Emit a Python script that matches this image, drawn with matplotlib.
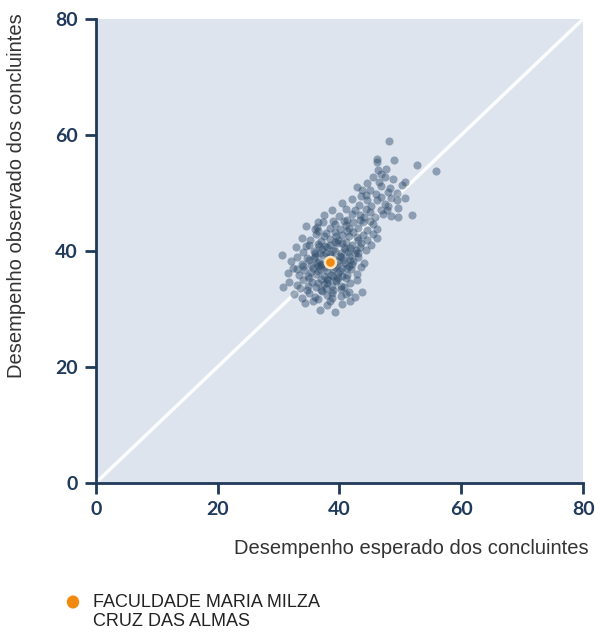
import matplotlib
matplotlib.use("Agg")
import matplotlib.pyplot as plt

# desempenho esperado (x) e observado (y) das instituicoes
expected = [
    34.3, 36.8, 39.2, 41.7, 37.9, 35.6, 40.4, 38.5,
    32.5, 33.8, 35.0, 36.0, 37.1, 38.0, 39.0, 40.3, 41.5, 42.6, 36.5, 38.7, 43.7, 34.6,
    30.7, 31.8, 33.0, 34.0, 34.8, 35.5, 36.2, 36.9, 37.5, 38.1, 38.8, 39.4, 40.2, 41.0,
    41.8, 42.9, 35.0, 36.5, 37.8, 39.8, 33.6, 40.7,
    31.5, 32.3, 33.4, 34.2, 34.9, 35.6, 36.2, 36.8, 37.4, 38.0, 38.6, 39.2, 39.8, 40.5,
    41.2, 41.9, 42.8, 43.6, 34.0, 35.3, 36.5, 37.7, 39.0, 40.1, 41.5, 33.0,
    32.0, 33.0, 33.9, 34.7, 35.4, 36.0, 36.7, 37.3, 37.9, 39.0, 39.6, 40.2, 40.9, 41.6,
    42.3, 43.1, 44.0, 35.0, 36.3, 38.5, 40.6, 42.0, 30.6, 37.0,
    32.8, 34.0, 35.0, 35.8, 36.5, 37.2, 37.8, 38.4, 39.0, 39.6, 40.2, 40.8, 41.4, 42.0,
    42.7, 43.5, 44.3, 36.0, 38.0, 39.3, 40.5, 41.8, 43.0, 45.2, 34.5,
    33.8, 35.2, 36.2, 37.0, 37.8, 38.5, 39.2, 39.8, 40.4, 41.0, 41.6, 42.3, 43.0, 43.8,
    44.6, 45.5, 37.5, 39.5, 41.3, 42.8, 36.5, 46.2,
    34.5, 36.0, 36.3, 37.3, 38.4, 38.9, 39.3, 40.1, 40.8, 41.2, 41.5, 42.2, 43.0, 43.8,
    44.6, 45.5, 46.2, 41.0, 43.4, 45.0, 36.5,
    37.5, 38.8, 40.0, 41.0, 42.0, 42.5, 43.3, 44.4, 45.0, 45.8, 46.8, 47.8, 48.5, 49.6,
    51.9, 49.6, 44.0, 47.2,
    40.5, 42.0, 43.2, 44.5, 45.2, 46.1, 46.8, 47.5, 48.4, 49.4, 50.7, 43.6, 48.0,
    42.9, 43.7, 45.0, 46.0, 46.9, 47.9, 48.3, 49.5, 44.3, 50.3,
    44.5, 45.5, 46.5, 47.5, 48.8, 50.7, 46.8,
    46.3, 46.1, 46.1, 48.9, 52.7, 55.8, 48.1, 47.7,
    # nucleo mais denso
    36.4, 37.2, 38.0, 38.9, 39.7, 40.5, 41.3, 36.8, 37.6, 38.4, 39.3, 40.1, 40.9, 41.7,
    37.0, 37.9, 38.7, 39.5, 40.3, 41.1, 35.8, 36.7, 42.5, 43.3,
]
observed = [
    31.0, 29.8, 29.5, 31.3, 30.6, 31.3, 30.9, 31.4,
    32.6, 31.9, 32.8, 32.1, 33.0, 32.4, 33.2, 32.3, 32.9, 32.0, 31.7, 31.8, 32.9, 33.3,
    33.8, 34.6, 34.1, 35.0, 33.9, 34.7, 33.7, 35.2, 34.3, 35.0, 33.9, 34.8, 34.0, 35.3,
    34.4, 35.0, 35.4, 34.4, 33.6, 35.4, 33.6, 33.7,
    36.2, 37.1, 35.8, 36.7, 35.6, 37.0, 36.0, 36.9, 35.7, 36.6, 35.9, 37.2, 36.2, 37.0,
    35.8, 36.8, 36.1, 37.3, 37.4, 36.3, 37.4, 37.3, 35.6, 36.6, 37.4, 36.9,
    38.3, 39.0, 37.8, 38.8, 37.6, 39.2, 38.1, 39.3, 37.7, 38.7, 37.6, 39.0, 38.0, 39.2,
    38.2, 39.0, 38.0, 38.5, 38.0, 39.4, 38.5, 37.7, 39.3, 37.6,
    40.6, 39.8, 41.0, 40.0, 41.2, 40.3, 39.6, 41.0, 40.1, 41.3, 39.7, 40.7, 39.8, 41.1,
    40.2, 41.3, 40.1, 39.6, 40.6, 39.9, 41.4, 40.5, 39.7, 41.0, 40.9,
    42.3, 41.8, 42.9, 41.7, 43.1, 42.0, 43.3, 41.9, 42.8, 41.6, 42.6, 43.2, 41.9, 42.8,
    41.8, 43.0, 42.5, 42.6, 43.4, 42.4, 43.4, 42.2,
    44.3, 43.8, 44.1, 45.0, 43.9, 45.2, 44.6, 43.7, 45.1, 45.3, 44.0, 45.0, 43.9, 44.9,
    43.6, 44.6, 43.8, 44.5, 45.4, 45.2, 45.0,
    46.2, 47.0, 46.0, 47.2, 46.3, 47.1, 46.2, 47.3, 46.7, 45.8, 47.0, 47.1, 46.0, 45.9,
    46.2, 47.4, 45.9, 46.3,
    48.2, 49.0, 48.0, 48.8, 47.8, 48.8, 49.3, 48.1, 49.2, 48.8, 49.1, 49.4, 47.7,
    51.0, 50.5, 50.5, 49.8, 51.2, 50.2, 50.9, 50.0, 49.7, 51.3,
    51.7, 52.8, 51.9, 52.8, 52.4, 51.9, 53.3,
    54.0, 55.9, 55.3, 55.7, 54.8, 53.8, 59.0, 54.2,
    36.5, 37.8, 35.2, 36.9, 38.3, 35.6, 37.1, 39.6, 40.8, 38.9, 41.5, 39.2, 40.4, 38.4,
    33.2, 34.4, 32.8, 34.9, 33.5, 32.6, 38.8, 40.9, 39.6, 40.7,
]

# instituicao em destaque
highlight_name = "FACULDADE MARIA MILZA\nCRUZ DAS ALMAS"
highlight_x = 38.4
highlight_y = 38.1

ticks = [0, 20, 40, 60, 80]

navy = "#1f3a5a"
bg = "#dde4ee"
dots = "#2d4a6a"
orange = "#f0890f"


def main():
    fig = plt.figure(figsize=(5.95, 6.32), dpi=100)
    ax = fig.add_axes([0.161, 0.236, 0.819, 0.734])
    ax.set_facecolor(bg)

    ax.plot([0, 80], [0, 80], color="white", lw=2.5, alpha=0.9, zorder=1)
    ax.scatter(expected, observed, s=34, color=dots, alpha=0.45,
               linewidths=0, zorder=2)
    ax.scatter([highlight_x], [highlight_y], s=64, color=orange,
               edgecolors="#fbe3bd", linewidths=1.8, zorder=3)

    ax.set_xlim(0, 80)
    ax.set_ylim(0, 80)
    ax.set_xticks(ticks)
    ax.set_yticks(ticks)
    for side in ["top", "right"]:
        ax.spines[side].set_visible(False)
    for side in ["left", "bottom"]:
        ax.spines[side].set_color(navy)
        ax.spines[side].set_linewidth(2)
    ax.tick_params(direction="out", length=8, width=2, color=navy,
                   labelcolor=navy, labelsize=14, pad=5)
    for lab in ax.get_xticklabels() + ax.get_yticklabels():
        lab.set_fontweight("bold")
        lab.set_fontfamily("Lato")

    fig.text(589 / 595, 1 - 549 / 632, "Desempenho esperado dos concluintes",
             ha="right", va="center", fontsize=14.5, color="#333333",
             family="Liberation Sans")
    fig.text(17 / 595, 1 - 196 / 632, "Desempenho observado dos concluintes",
             ha="center", va="center", rotation=90, fontsize=14.5,
             color="#333333", family="Liberation Sans")

    # legenda
    fig.patches.append(plt.Circle((73 / 595, 1 - 602 / 632), 5.5 / 595,
                                  transform=fig.transFigure, color=orange))
    fig.text(93 / 595, 1 - 612 / 632, highlight_name, ha="left", va="center",
             fontsize=13, color="#222222", family="Liberation Sans",
             linespacing=1.15)

    fig.savefig("out.png", dpi=100)


if __name__ == "__main__":
    main()
